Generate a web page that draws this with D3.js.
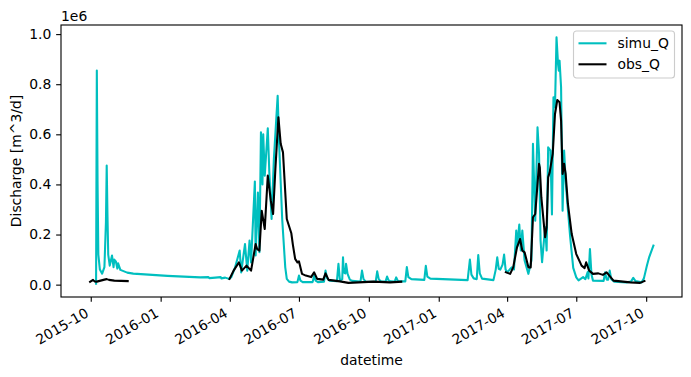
<!DOCTYPE html>
<html>
<head>
<meta charset="utf-8">
<script src="https://cdn.jsdelivr.net/npm/d3@7"></script>
<style>
  body { margin: 0; background: #fff; }
  text { font-family: "DejaVu Sans", sans-serif; }
</style>
</head>
<body>
<div class="chart"></div>
<script>
// simulated discharge [date, m^3/d]
var simuQ = [
  ["2015-10-08", 0], ["2015-10-09", 855000], ["2015-10-10", 400000], ["2015-10-11", 120000],
  ["2015-10-13", 60000], ["2015-10-16", 44000], ["2015-10-19", 70000], ["2015-10-21", 250000],
  ["2015-10-22", 475000], ["2015-10-23", 280000], ["2015-10-24", 120000], ["2015-10-26", 76000],
  ["2015-10-29", 116000], ["2015-10-31", 70000], ["2015-11-01", 100000], ["2015-11-03", 93000],
  ["2015-11-05", 64000], ["2015-11-06", 85000], ["2015-11-09", 59000], ["2015-11-18", 48000],
  ["2015-11-26", 44000], ["2016-01-10", 35000], ["2016-02-22", 29000], ["2016-03-04", 30000],
  ["2016-03-05", 26000], ["2016-03-13", 28000], ["2016-03-20", 30000], ["2016-03-21", 25000],
  ["2016-03-26", 28000], ["2016-03-31", 23000], ["2016-04-03", 30000], ["2016-04-08", 69000],
  ["2016-04-14", 136000], ["2016-04-16", 49000], ["2016-04-21", 162000], ["2016-04-24", 56000],
  ["2016-04-27", 176000], ["2016-04-29", 89000], ["2016-05-04", 412000], ["2016-05-05", 116000],
  ["2016-05-08", 368000], ["2016-05-10", 129000], ["2016-05-12", 608000], ["2016-05-14", 400000],
  ["2016-05-15", 600000], ["2016-05-17", 435000], ["2016-05-21", 624000], ["2016-05-23", 450000],
  ["2016-05-26", 262000], ["2016-05-29", 500000], ["2016-06-03", 754000], ["2016-06-05", 555000],
  ["2016-06-09", 260000], ["2016-06-13", 69000], ["2016-06-15", 23000], ["2016-06-18", 12000],
  ["2016-06-22", 9000], ["2016-06-29", 10000], ["2016-07-01", 36000], ["2016-07-03", 16000],
  ["2016-07-06", 10000], ["2016-07-19", 10000], ["2016-07-21", 36000], ["2016-07-23", 16000],
  ["2016-07-26", 10000], ["2016-08-03", 12000], ["2016-08-05", 56000], ["2016-08-07", 26000],
  ["2016-08-10", 16000], ["2016-08-20", 14000], ["2016-08-22", 83000], ["2016-08-24", 16000],
  ["2016-08-27", 22000], ["2016-08-28", 109000], ["2016-08-29", 49000], ["2016-08-31", 45000],
  ["2016-09-01", 83000], ["2016-09-03", 43000], ["2016-09-06", 20000], ["2016-09-09", 15000],
  ["2016-09-20", 12000], ["2016-09-22", 56000], ["2016-09-24", 22000], ["2016-09-27", 12000],
  ["2016-10-10", 11000], ["2016-10-12", 53000], ["2016-10-14", 22000], ["2016-10-17", 13000],
  ["2016-10-23", 12000], ["2016-10-25", 32000], ["2016-10-27", 17000], ["2016-10-30", 13000],
  ["2016-11-04", 12000], ["2016-11-06", 29000], ["2016-11-08", 16000], ["2016-11-11", 13000],
  ["2016-11-18", 13000], ["2016-11-20", 70000], ["2016-11-22", 30000], ["2016-11-26", 22000],
  ["2016-12-13", 19000], ["2016-12-15", 75000], ["2016-12-17", 32000], ["2016-12-21", 24000],
  ["2017-02-08", 18000], ["2017-02-11", 100000], ["2017-02-13", 40000], ["2017-02-16", 25000],
  ["2017-02-20", 22000], ["2017-02-22", 118000], ["2017-02-24", 45000], ["2017-02-27", 24000],
  ["2017-03-14", 18000], ["2017-03-17", 60000], ["2017-03-19", 109000], ["2017-03-21", 63000],
  ["2017-03-23", 60000], ["2017-03-26", 80000], ["2017-03-28", 120000], ["2017-03-30", 60000],
  ["2017-04-01", 49000], ["2017-04-07", 69000], ["2017-04-10", 60000], ["2017-04-13", 216000],
  ["2017-04-14", 149000], ["2017-04-17", 240000], ["2017-04-19", 136000], ["2017-04-21", 216000],
  ["2017-04-24", 96000], ["2017-04-29", 43000], ["2017-05-03", 96000], ["2017-05-05", 562000],
  ["2017-05-08", 255000], ["2017-05-11", 628000], ["2017-05-13", 522000], ["2017-05-15", 176000],
  ["2017-05-17", 90000], ["2017-05-21", 229000], ["2017-05-23", 136000], ["2017-05-25", 548000],
  ["2017-05-28", 535000], ["2017-05-30", 280000], ["2017-06-01", 748000], ["2017-06-03", 708000],
  ["2017-06-05", 987000], ["2017-06-07", 880000], ["2017-06-08", 854000], ["2017-06-09", 894000],
  ["2017-06-11", 788000], ["2017-06-13", 295000], ["2017-06-15", 535000], ["2017-06-17", 415000],
  ["2017-06-19", 335000], ["2017-06-23", 189000], ["2017-06-27", 67000], ["2017-07-01", 29000],
  ["2017-07-04", 17000], ["2017-07-10", 30000], ["2017-07-13", 22000], ["2017-07-16", 50000],
  ["2017-07-17", 25000], ["2017-07-19", 142000], ["2017-07-21", 40000], ["2017-07-23", 16000],
  ["2017-08-06", 15000], ["2017-08-08", 49000], ["2017-08-10", 20000], ["2017-08-12", 20000],
  ["2017-08-14", 56000], ["2017-08-16", 22000], ["2017-08-20", 12000], ["2017-09-05", 9000],
  ["2017-09-11", 12000], ["2017-09-14", 27000], ["2017-09-17", 14000], ["2017-09-25", 9000],
  ["2017-09-28", 25000], ["2017-10-02", 76000], ["2017-10-05", 110000], ["2017-10-11", 160000]
];

// observed discharge, null = gap in the record
var obsQ = [
  ["2015-09-29", 9000], ["2015-10-01", 13000], ["2015-10-04", 19000], ["2015-10-06", 13000],
  ["2015-10-09", 12000], ["2015-10-14", 16000], ["2015-10-19", 20000], ["2015-10-22", 22000],
  ["2015-10-25", 19000], ["2015-11-01", 16000], ["2015-11-10", 15000], ["2015-11-20", 14000],
  ["2015-11-21", null],
  ["2016-03-31", 19000], ["2016-04-06", 56000], ["2016-04-13", 89000], ["2016-04-17", 56000],
  ["2016-04-23", 76000], ["2016-04-29", 56000], ["2016-05-05", 162000], ["2016-05-07", 142000],
  ["2016-05-10", 136000], ["2016-05-13", 295000], ["2016-05-17", 222000], ["2016-05-21", 435000],
  ["2016-05-25", 335000], ["2016-05-28", 282000], ["2016-05-31", 462000], ["2016-06-04", 668000],
  ["2016-06-07", 562000], ["2016-06-10", 528000], ["2016-06-15", 262000], ["2016-06-21", 205000],
  ["2016-06-23", 160000], ["2016-06-26", 103000], ["2016-06-29", 89000], ["2016-07-01", 93000],
  ["2016-07-05", 43000], ["2016-07-10", 36000], ["2016-07-17", 30000], ["2016-07-21", 49000],
  ["2016-07-25", 23000], ["2016-08-02", 20000], ["2016-08-05", 45000], ["2016-08-09", 19000],
  ["2016-08-24", 13000], ["2016-09-04", 7000], ["2016-10-07", 12000], ["2016-10-29", 9000],
  ["2016-11-14", 12000],
  ["2016-11-15", null],
  ["2017-03-29", 51000], ["2017-04-05", 43000], ["2017-04-09", 69000], ["2017-04-14", 149000],
  ["2017-04-18", 182000], ["2017-04-21", 136000], ["2017-04-24", 129000], ["2017-04-29", 69000],
  ["2017-05-02", 69000], ["2017-05-05", 269000], ["2017-05-08", 282000], ["2017-05-10", 362000],
  ["2017-05-13", 482000], ["2017-05-14", 468000], ["2017-05-16", 349000], ["2017-05-21", 189000],
  ["2017-05-23", 229000], ["2017-05-25", 428000], ["2017-05-27", 448000], ["2017-05-31", 522000],
  ["2017-06-03", 681000], ["2017-06-06", 737000], ["2017-06-09", 728000], ["2017-06-11", 655000],
  ["2017-06-13", 442000], ["2017-06-15", 482000], ["2017-06-17", 442000], ["2017-06-20", 322000],
  ["2017-06-25", 202000], ["2017-07-01", 122000], ["2017-07-08", 76000], ["2017-07-12", 66000],
  ["2017-07-14", 89000], ["2017-07-18", 56000], ["2017-07-23", 43000], ["2017-07-30", 45000],
  ["2017-08-05", 39000], ["2017-08-10", 49000], ["2017-08-19", 16000], ["2017-09-10", 9000],
  ["2017-09-23", 7000], ["2017-09-30", 16000]
];

var yTicks = [0, 200000, 400000, 600000, 800000, 1000000];
var seriesNames = ["simu_Q", "obs_Q"];
var seriesColors = ["#00bfbf", "#000000"];

var w = 691;
var h = 377;
var margin = {top: 25, right: 9, bottom: 80, left: 61};
var iw = w - margin.left - margin.right;
var ih = h - margin.top - margin.bottom;
var fs = 13.9;
var tick = 4.86;

var parse = d3.timeParse("%Y-%m-%d");
var simu = simuQ.map(function(d) { return {date: parse(d[0]), q: d[1]}; });
var obs = obsQ.map(function(d) { return {date: parse(d[0]), q: d[1]}; });
var all = simu.concat(obs).filter(function(d) { return d.q !== null; });

// matplotlib style 5% margins
var xExt = d3.extent(all, function(d) { return +d.date; });
var xPad = (xExt[1] - xExt[0]) * 0.05;
var yExt = d3.extent(all, function(d) { return d.q; });
var yPad = (yExt[1] - yExt[0]) * 0.05;

var x = d3.scaleTime()
          .domain([new Date(xExt[0] - xPad), new Date(xExt[1] + xPad)])
          .range([0, iw]);
var y = d3.scaleLinear()
          .domain([yExt[0] - yPad, yExt[1] + yPad])
          .range([ih, 0]);

var svg = d3.select(".chart")
            .append("svg")
            .attr("width", w)
            .attr("height", h)
            .style("font-size", fs + "px");

var g = svg.append("g")
           .attr("transform", "translate(" + margin.left + "," + margin.top + ")");

var line = d3.line()
             .defined(function(d) { return d.q !== null; })
             .x(function(d) { return x(d.date); })
             .y(function(d) { return y(d.q); });

g.append("path")
 .datum(simu)
 .attr("d", line)
 .attr("fill", "none")
 .attr("stroke", seriesColors[0])
 .attr("stroke-width", 2.08)
 .attr("stroke-linejoin", "round");

g.append("path")
 .datum(obs)
 .attr("d", line)
 .attr("fill", "none")
 .attr("stroke", seriesColors[1])
 .attr("stroke-width", 2.08)
 .attr("stroke-linejoin", "round");

// x axis
var xTicks = d3.timeMonth.every(3).range(parse("2015-10-01"), parse("2017-10-02"));
var xAxis = g.append("g")
             .attr("transform", "translate(0," + ih + ")")
             .call(d3.axisBottom(x)
                     .tickValues(xTicks)
                     .tickFormat(d3.timeFormat("%Y-%m"))
                     .tickSize(tick)
                     .tickPadding(tick));
xAxis.select(".domain").remove();
xAxis.selectAll("line").attr("stroke-width", 1.11);
xAxis.selectAll("text")
     .attr("font-size", fs)
     .attr("font-family", "DejaVu Sans")
     .attr("fill", "#000")
     .attr("text-anchor", "end")
     .attr("dy", null)
     .attr("y", null)
     .attr("transform", "translate(-1.6," + (2 * tick + 9.2) + ") rotate(-30)");

// y axis
var yAxis = g.append("g")
             .call(d3.axisLeft(y)
                     .tickValues(yTicks)
                     .tickFormat(function(d) { return (d / 1e6).toFixed(1); })
                     .tickSize(tick)
                     .tickPadding(tick));
yAxis.select(".domain").remove();
yAxis.selectAll("line").attr("stroke-width", 1.11);
yAxis.selectAll("text")
     .attr("font-size", fs)
     .attr("font-family", "DejaVu Sans")
     .attr("fill", "#000");

// frame
g.append("rect")
 .attr("width", iw)
 .attr("height", ih)
 .attr("fill", "none")
 .attr("stroke", "#000")
 .attr("stroke-width", 1.11);

// offset text
g.append("text")
 .attr("x", 0)
 .attr("y", -4)
 .text("1e6");

// labels
svg.append("text")
   .attr("x", margin.left + iw / 2)
   .attr("y", 365)
   .attr("text-anchor", "middle")
   .text("datetime");

svg.append("text")
   .attr("transform", "translate(20.5," + (margin.top + ih / 2) + ") rotate(-90)")
   .attr("text-anchor", "middle")
   .text("Discharge [m^3/d]");

// legend
var lg = svg.append("g")
            .attr("transform", "translate(573.5,31)");
lg.append("rect")
  .attr("width", 101)
  .attr("height", 47)
  .attr("rx", 3)
  .attr("fill", "#fff")
  .attr("fill-opacity", 0.8)
  .attr("stroke", "#cccccc")
  .attr("stroke-width", 1.11);

seriesNames.forEach(function(name, i) {
  var yy = 12.3 + i * 21;
  lg.append("line")
    .attr("x1", 5)
    .attr("x2", 33)
    .attr("y1", yy)
    .attr("y2", yy)
    .attr("stroke", seriesColors[i])
    .attr("stroke-width", 2.08);
  lg.append("text")
    .attr("x", 44)
    .attr("y", yy + 5)
    .text(name);
});
</script>
</body>
</html>
